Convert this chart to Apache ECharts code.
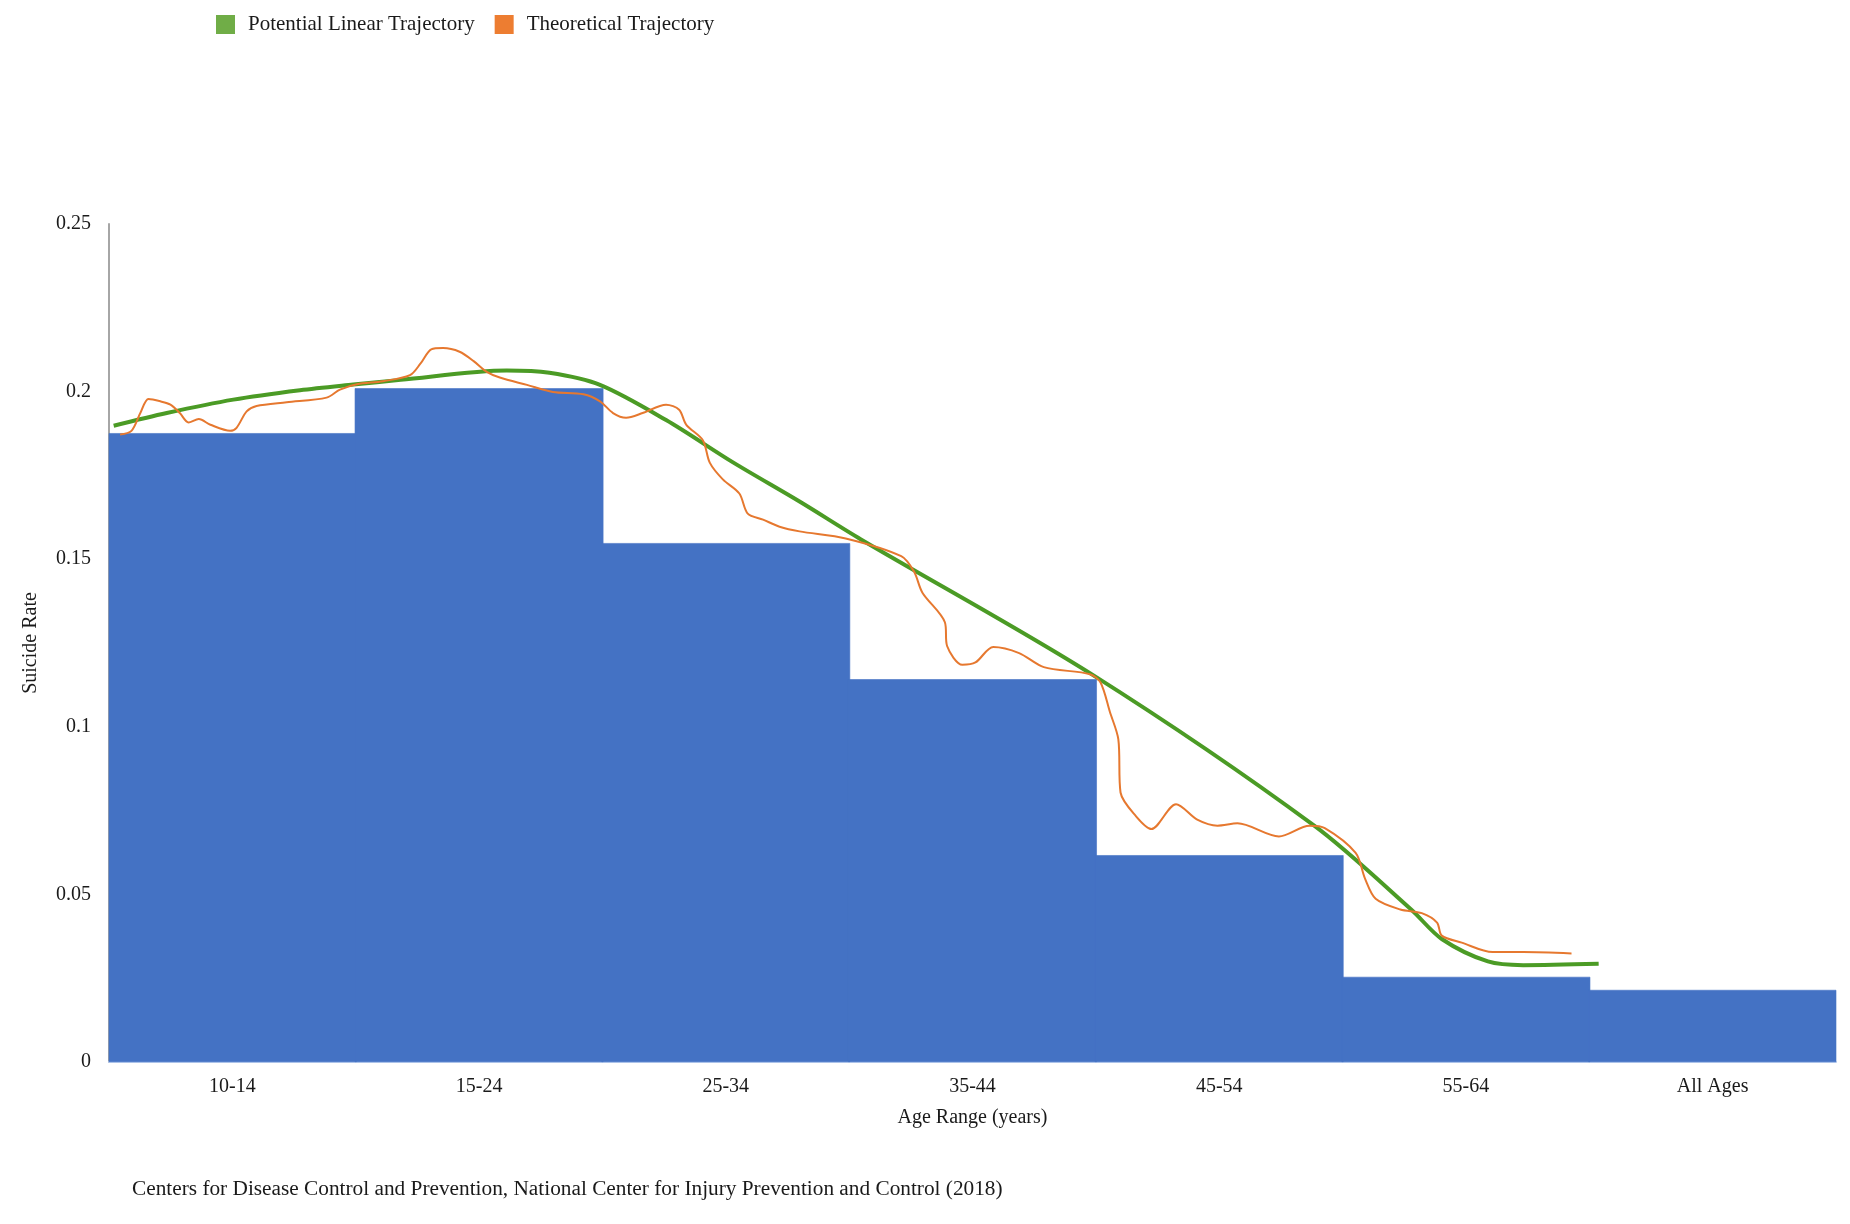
<!DOCTYPE html>
<html>
<head>
<meta charset="utf-8">
<script src="https://cdn.jsdelivr.net/npm/echarts@6/dist/echarts.min.js"></script>
<style>
html,body{margin:0;padding:0;background:#fff;}
#chart{width:1850px;height:1224px;}
</style>
</head>
<body>
<div id="chart"></div>
<script>
// ---- Data ----
const categories = ['10-14', '15-24', '25-34', '35-44', '45-54', '55-64', 'All Ages'];
const suicideRates = [0.1876, 0.2010, 0.1548, 0.1142, 0.0617, 0.0254, 0.0215];
const yTicks = [0, 0.05, 0.1, 0.15, 0.2, 0.25];

// Potential Linear Trajectory (x in category units, 0 = left edge of "10-14")
const linearX = [0.019, 0.234, 0.504, 0.774, 0.990, 1.182, 1.612, 1.785, 1.990, 2.258, 2.531, 2.799, 3.048, 3.976, 4.885, 5.278, 5.402, 5.589, 5.732, 6.038];
const linearY = [0.1898, 0.1936, 0.1976, 0.2004, 0.2021, 0.2035, 0.2063, 0.2056, 0.2020, 0.1915, 0.1788, 0.1672, 0.1559, 0.1160, 0.0705, 0.0455, 0.0367, 0.0300, 0.0289, 0.0293];

// Theoretical Trajectory
const theoX = [0.045, 0.091, 0.127, 0.160, 0.208, 0.249, 0.287, 0.322, 0.364, 0.411, 0.491, 0.517, 0.558, 0.598, 0.720, 0.882, 0.936, 1.005, 1.110, 1.220, 1.263, 1.306, 1.354, 1.421, 1.478, 1.531, 1.584, 1.694, 1.799, 1.923, 1.990, 2.043, 2.096, 2.163, 2.258, 2.311, 2.340, 2.407, 2.435, 2.488, 2.555, 2.589, 2.651, 2.718, 2.799, 2.986, 3.211, 3.263, 3.297, 3.388, 3.397, 3.459, 3.512, 3.584, 3.689, 3.789, 3.976, 4.019, 4.057, 4.091, 4.100, 4.163, 4.225, 4.325, 4.411, 4.493, 4.574, 4.742, 4.866, 4.928, 5.053, 5.091, 5.134, 5.234, 5.321, 5.383, 5.402, 5.483, 5.608, 5.732, 5.928];
const theoY = [0.1872, 0.1883, 0.1936, 0.1978, 0.1971, 0.1961, 0.1936, 0.1908, 0.1918, 0.1901, 0.1883, 0.1892, 0.1941, 0.1957, 0.1968, 0.1982, 0.2006, 0.2022, 0.2031, 0.2049, 0.2084, 0.2126, 0.2130, 0.2119, 0.2091, 0.2059, 0.2042, 0.2020, 0.1999, 0.1992, 0.1971, 0.1936, 0.1922, 0.1936, 0.1961, 0.1946, 0.1901, 0.1855, 0.1788, 0.1738, 0.1696, 0.1636, 0.1618, 0.1597, 0.1583, 0.1562, 0.1509, 0.1463, 0.1400, 0.1312, 0.1241, 0.1185, 0.1192, 0.1238, 0.1220, 0.1178, 0.1157, 0.1132, 0.1044, 0.0963, 0.0804, 0.0733, 0.0695, 0.0769, 0.0723, 0.0705, 0.0712, 0.0673, 0.0705, 0.0698, 0.0624, 0.0547, 0.0487, 0.0455, 0.0444, 0.0416, 0.0377, 0.0356, 0.0328, 0.0328, 0.0324];

const sourceNote = 'Centers for Disease Control and Prevention, National Center for Injury Prevention and Control (2018)';

// ---- Chart ----
const FONT = '"Liberation Serif", "Times New Roman", serif';
const zip = (xs, ys) => xs.map((x, i) => [x, ys[i]]);

const chart = echarts.init(document.getElementById('chart'));
chart.setOption({
  backgroundColor: '#ffffff',
  animation: false,
  textStyle: { fontFamily: FONT },
  legend: {
    left: 211,
    top: 9,
    icon: 'rect',
    itemWidth: 19,
    itemHeight: 19,
    itemGap: 20,
    data: ['Potential Linear Trajectory', 'Theoretical Trajectory'],
    textStyle: { fontFamily: FONT, fontSize: 21, color: '#1a1a1a', padding: [0, 0, 0, 8] }
  },
  grid: { left: 109, right: 14, top: 224, bottom: 162, containLabel: false },
  xAxis: [
    {
      type: 'category',
      data: categories,
      boundaryGap: true,
      name: 'Age Range (years)',
      nameLocation: 'middle',
      nameGap: 46,
      nameTextStyle: { fontFamily: FONT, fontSize: 20, color: '#1a1a1a' },
      axisLine: { show: true, lineStyle: { color: '#b9cdee', width: 2 } },
      axisTick: { show: false },
      axisLabel: { fontFamily: FONT, fontSize: 20, color: '#1a1a1a', margin: 15 },
      splitLine: { show: false }
    },
    {
      type: 'value',
      min: 0,
      max: categories.length,
      show: false,
      splitLine: { show: false }
    }
  ],
  yAxis: {
    type: 'value',
    min: yTicks[0],
    max: yTicks[yTicks.length - 1],
    interval: yTicks[1] - yTicks[0],
    name: 'Suicide Rate',
    nameLocation: 'middle',
    nameRotate: 90,
    nameGap: 68,
    nameTextStyle: { fontFamily: FONT, fontSize: 20, color: '#1a1a1a' },
    axisLine: { show: true, lineStyle: { color: '#a6a6a6', width: 2 } },
    axisTick: { show: false },
    axisLabel: { fontFamily: FONT, fontSize: 20, color: '#1a1a1a', margin: 18 },
    splitLine: { show: false }
  },
  series: [
    {
      name: 'Suicide Rate',
      type: 'bar',
      xAxisIndex: 0,
      data: suicideRates,
      barWidth: '100.8%',
      barGap: '-100%',
      itemStyle: { color: '#4472C4', borderColor: '#4472C4', borderWidth: 0.6 },
      z: 1
    },
    {
      name: 'Potential Linear Trajectory',
      type: 'line',
      xAxisIndex: 1,
      data: zip(linearX, linearY),
      smooth: 0.3,
      showSymbol: false,
      symbol: 'none',
      itemStyle: { color: '#70AD47' },
      lineStyle: { color: '#4b9b25', width: 4 },
      z: 3
    },
    {
      name: 'Theoretical Trajectory',
      type: 'line',
      xAxisIndex: 1,
      data: zip(theoX, theoY),
      smooth: 0.3,
      showSymbol: false,
      symbol: 'none',
      itemStyle: { color: '#ED7D31' },
      lineStyle: { color: '#E6782F', width: 2 },
      z: 4
    }
  ],
  graphic: [
    {
      type: 'text',
      left: 132,
      top: 1179,
      style: { text: sourceNote, font: '21.3px ' + FONT, fill: '#1a1a1a' }
    }
  ]
});
</script>
</body>
</html>
